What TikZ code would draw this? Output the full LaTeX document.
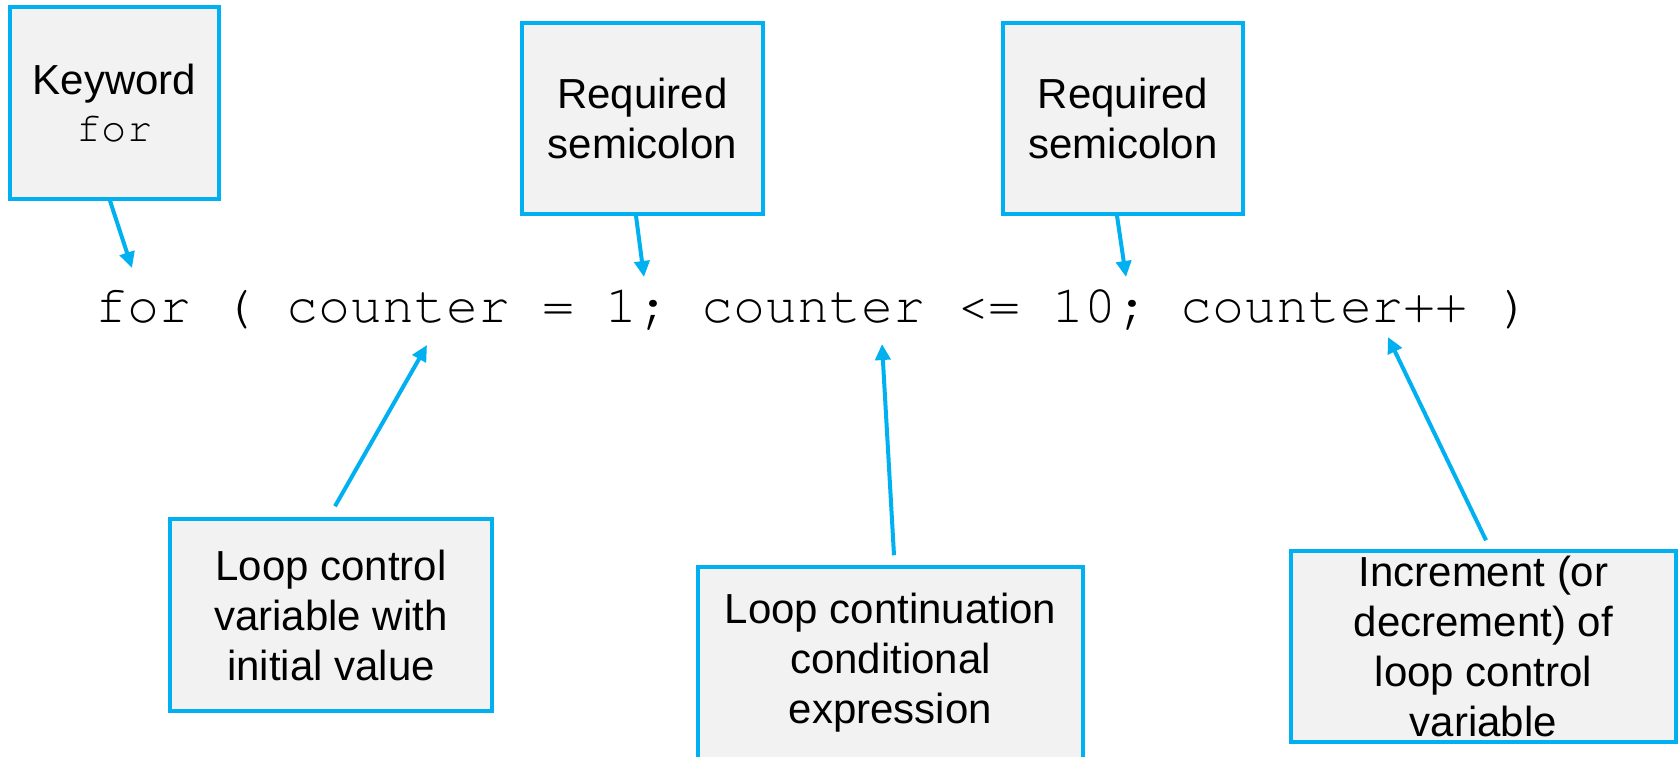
\documentclass[tikz,border=0pt]{standalone}
\usepackage{fontspec}
\setmainfont{Liberation Sans}
\newfontfamily\codefont{TeX Gyre Cursor}
\usetikzlibrary{arrows.meta}
\definecolor{cyanb}{HTML}{00B0F0}
\definecolor{boxfill}{HTML}{F2F2F2}
\tikzset{
  callout/.style={draw=cyanb, fill=boxfill, line width=3.5pt, rectangle,
    align=center, inner sep=0pt, font=\fontsize{42}{50}\selectfont},
  arr/.style={draw=cyanb, line width=4pt,
    -{Triangle[length=16pt,width=15pt]}}
}
\begin{document}
\begin{tikzpicture}[x=1pt,y=-1pt]
\useasboundingbox (0,0) rectangle (1679,756);
\clip (0,0) rectangle (1679,756);
% code line
\node[anchor=base west, inner sep=0pt, font=\codefont\fontsize{53.2}{60}\selectfont] (code) at (95,322)
  {for ( counter = 1; counter <= 10; counter++ )};
% boxes
\node[callout, minimum width=209pt, minimum height=192pt, font=\fontsize{42}{47}\selectfont] (b1) at (114.5,103)
  {Keyword\\{\codefont for}};
\node[callout, minimum width=241pt, minimum height=191pt] (b2) at (642.5,118.5)
  {Required\\semicolon};
\node[callout, minimum width=240pt, minimum height=191pt] (b3) at (1123,118.5)
  {Required\\semicolon};
\node[callout, minimum width=322pt, minimum height=192pt] (b4) at (331,615)
  {Loop control\\variable with\\initial value};
\node[callout, minimum width=385pt, minimum height=192pt] (b5) at (890.5,663)
  {Loop continuation\\conditional\\expression};
\node[callout, minimum width=385pt, minimum height=191pt] (b6) at (1483.5,646.5)
  {Increment (or\\decrement) of\\loop control\\variable};
% arrow tips
\coordinate (t1) at (132,268);
\coordinate (t2) at (644,277);
\coordinate (t3) at (1126,277);
\coordinate (t4) at (427,345);
\coordinate (t5) at (882,344);
\coordinate (t6) at (1388,337);
% connectors
\draw[arr] ([xshift=-4.5pt]b1.south) -- (t1);
\draw[arr] ([xshift=-6.5pt]b2.south) -- (t2);
\draw[arr] ([xshift=-6pt]b3.south) -- (t3);
\draw[arr] ([xshift=4pt,yshift=11pt]b4.north) -- (t4);
\draw[arr] ([xshift=3.5pt,yshift=10pt]b5.north) -- (t5);
\draw[arr] ([xshift=2.5pt,yshift=9pt]b6.north) -- (t6);
\end{tikzpicture}
\end{document}
